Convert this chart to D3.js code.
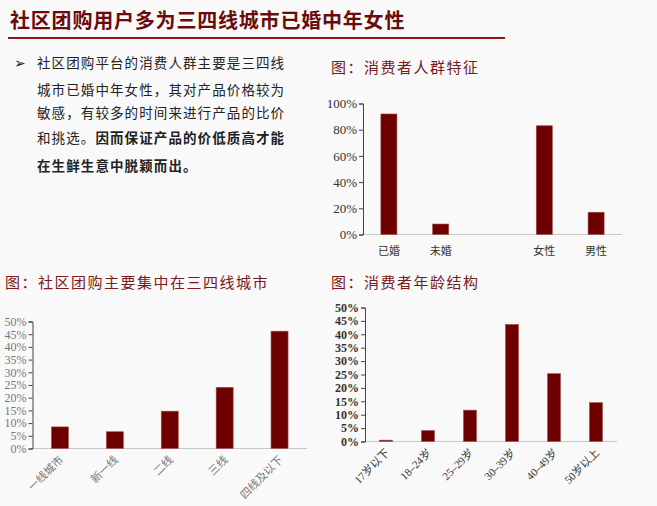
<!DOCTYPE html>
<meta charset="utf-8">
<script src="https://d3js.org/d3.v7.min.js"></script>
<style>
  body{margin:0;background:#f9f9f9;}
  svg{display:block;}
</style>
<div id="page"></div>
<script>
  // data
  const crowdCats = ["已婚","未婚","","女性","男性"];
  const crowdVals = [0.92,0.08,null,0.83,0.17];
  const cityCats = ["一线城市","新一线","二线","三线","四线及以下"];
  const cityVals = [0.085,0.066,0.147,0.241,0.462];
  const ageCats = ["17岁以下","18–24岁","25–29岁","30–39岁","40–49岁","50岁以上"];
  const ageVals = [0.005,0.041,0.117,0.437,0.253,0.145];
  const bullet = [
    ["社区团购平台的消费人群主要是三四线", false],
    ["城市已婚中年女性，其对产品价格较为", false],
    ["敏感，有较多的时间来进行产品的比价", false],
    ["和挑选。", false, "因而保证产品的价低质高才能"],
    ["", false, "在生鲜生意中脱颖而出。"]
  ];

  const W = 657, H = 506;
  const red = "#6e0000", cjk = "'Noto Sans CJK SC', sans-serif", num = "'Liberation Serif', serif";

  const svg = d3.select("#page").append("svg")
      .attr("width", W).attr("height", H);
  svg.append("rect").attr("width", W).attr("height", H).attr("fill", "#f9f9f9");

  // heading
  svg.append("text")
      .attr("x", 10).attr("y", 28)
      .attr("font-family", cjk).attr("font-weight", "bold")
      .attr("font-size", 20).attr("letter-spacing", 0.8)
      .attr("fill", "#6b0a0a")
      .text("社区团购用户多为三四线城市已婚中年女性");
  svg.append("line")
      .attr("x1", 8).attr("x2", 505).attr("y1", 38).attr("y2", 38)
      .attr("stroke", "#8b1a1a").attr("stroke-width", 2);

  // bullet text
  svg.append("text").attr("x", 14).attr("y", 68)
      .attr("font-size", 14).attr("fill", "#222").text("➢");
  const lineY = [68, 95, 118, 143, 171];
  bullet.forEach((b, i) => {
    const t = svg.append("text")
        .attr("x", 37).attr("y", lineY[i])
        .attr("font-family", cjk).attr("font-size", 13.5)
        .attr("letter-spacing", 1.1).attr("fill", "#222");
    t.append("tspan").text(b[0]);
    if (b[2]) t.append("tspan").attr("font-weight", "bold").text(b[2]);
  });

  function chart(opt) {
    const g = svg.append("g");
    g.append("text")
        .attr("x", opt.titleX).attr("y", opt.titleY)
        .attr("font-family", cjk).attr("font-size", 15)
        .attr("letter-spacing", 1.5).attr("fill", "#7a1a1a")
        .text(opt.title);

    const x = d3.scaleBand().domain(opt.cats.map((c, i) => i))
        .range([opt.x0, opt.x1]).paddingInner(opt.pad).paddingOuter(opt.pad / 2);
    const y = d3.scaleLinear().domain([0, opt.max]).range([opt.y0, opt.y1]);

    // x axis line
    g.append("line")
        .attr("x1", opt.x0).attr("x2", opt.x1)
        .attr("y1", opt.y0).attr("y2", opt.y0)
        .attr("stroke", "#c8c8c8").attr("stroke-width", 1);

    const ya = g.append("g")
        .attr("transform", `translate(${opt.x0},0)`)
        .call(d3.axisLeft(y).tickValues(opt.ticks).tickSize(4)
          .tickFormat(d3.format(".0%")));
    ya.select(".domain").attr("stroke", "#444");
    ya.selectAll(".tick line").attr("stroke", "#444");
    ya.selectAll(".tick text")
        .attr("font-family", num).attr("font-size", opt.tickSize)
        .attr("font-weight", opt.tickBold ? "bold" : "normal")
        .attr("fill", opt.tickColor).attr("x", -6);

    g.selectAll("rect.bar")
      .data(opt.vals.map((v, i) => ({v, i})).filter(d => d.v != null))
      .join("rect")
        .attr("class", "bar")
        .attr("x", d => x(d.i)).attr("width", x.bandwidth())
        .attr("y", d => y(d.v)).attr("height", d => opt.y0 - y(d.v))
        .attr("fill", red).attr("stroke", "#a05050").attr("stroke-width", 0.6);

    const lab = g.selectAll("text.lab")
      .data(opt.cats.map((c, i) => ({c, i})).filter(d => d.c))
      .join("text")
        .attr("class", "lab")
        .attr("fill", opt.labColor)
        .attr("font-size", 11)
        .text(d => d.c);
    if (opt.rotate) {
      lab.attr("text-anchor", "end")
         .attr("font-family", opt.labFont)
         .attr("transform", d => `translate(${x(d.i) + x.bandwidth() / 2 + 4},${opt.y0 + 12}) rotate(-45)`);
    } else {
      lab.attr("text-anchor", "middle")
         .attr("font-family", cjk)
         .attr("x", d => x(d.i) + x.bandwidth() / 2)
         .attr("y", opt.y0 + 20);
    }
  }

  chart({
    title: "图：消费者人群特征", titleX: 331, titleY: 73,
    cats: crowdCats, vals: crowdVals,
    x0: 363, x1: 622, y0: 234.5, y1: 103.5, max: 1,
    ticks: [0, 0.2, 0.4, 0.6, 0.8, 1], pad: 0.69,
    tickSize: 13, tickColor: "#333", labColor: "#333"
  });

  chart({
    title: "图：社区团购主要集中在三四线城市", titleX: 5, titleY: 288,
    cats: cityCats, vals: cityVals,
    x0: 32.5, x1: 307, y0: 448.5, y1: 321.5, max: 0.5,
    ticks: d3.range(0, 0.501, 0.05), pad: 0.69,
    tickSize: 12, tickColor: "#777", labColor: "#777",
    rotate: true, labFont: cjk
  });

  chart({
    title: "图：消费者年龄结构", titleX: 331, titleY: 288,
    cats: ageCats, vals: ageVals,
    x0: 365, x1: 617, y0: 441.5, y1: 307.5, max: 0.5,
    ticks: d3.range(0, 0.501, 0.05), pad: 0.69,
    tickSize: 12, tickBold: true, tickColor: "#333", labColor: "#333",
    rotate: true, labFont: "'Liberation Serif', 'Noto Sans CJK SC', serif"
  });
</script>
